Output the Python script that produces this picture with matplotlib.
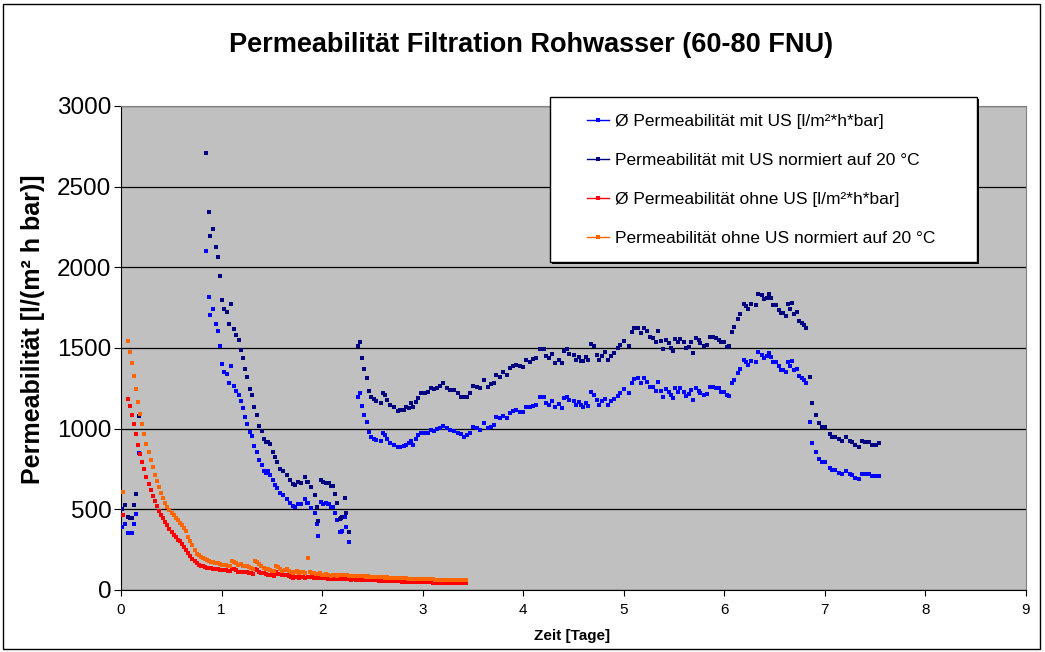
import numpy as np
import matplotlib.pyplot as plt
import matplotlib as mpl
from matplotlib.lines import Line2D
from matplotlib.patches import Rectangle

mpl.rcParams["font.family"] = ["Liberation Sans", "DejaVu Sans"]

# Zeit [Tage] und Permeabilitaet mit US (Ø und normiert auf 20 °C)
t_mit = [0.01, 0.04, 0.066, 0.086, 0.11, 0.13, 0.15, 0.176,
         0.845, 0.875, 0.89, 0.91, 0.94, 0.96, 0.987, 1.007, 1.024, 1.054,
         1.074, 1.093, 1.12, 1.143, 1.173, 1.19, 1.21, 1.236, 1.256, 1.283,
         1.30, 1.32, 1.35, 1.37, 1.40, 1.42, 1.44, 1.46, 1.48, 1.51,
         1.53, 1.55, 1.58, 1.61, 1.65, 1.68, 1.71, 1.73, 1.76, 1.79,
         1.83, 1.85, 1.86, 1.89, 1.925, 1.945, 1.96, 1.99, 2.01, 2.04,
         2.06, 2.07, 2.09, 2.11, 2.13, 2.15, 2.18, 2.19, 2.20, 2.23,
         2.24, 2.27,
         2.352, 2.376, 2.40, 2.42, 2.448, 2.468, 2.49, 2.52, 2.54, 2.585,
         2.607, 2.63, 2.65, 2.68, 2.71, 2.75, 2.77, 2.81, 2.83, 2.86,
         2.88, 2.90, 2.93, 2.95, 2.98, 3.02, 3.05, 3.08, 3.11, 3.14,
         3.17, 3.20, 3.24, 3.27, 3.31, 3.35, 3.38, 3.41, 3.44, 3.47,
         3.50, 3.54, 3.57, 3.605, 3.645, 3.68, 3.71, 3.73, 3.77, 3.80,
         3.84, 3.87, 3.90, 3.93, 3.97, 4.00, 4.03, 4.07, 4.10, 4.13,
         4.165, 4.21, 4.23, 4.26, 4.29, 4.32, 4.36, 4.39, 4.41, 4.44,
         4.46, 4.50, 4.52, 4.555, 4.57, 4.595, 4.62, 4.64, 4.67, 4.705,
         4.73, 4.75, 4.78, 4.81, 4.845, 4.87, 4.90, 4.94, 4.96, 5.00,
         5.05, 5.08, 5.10, 5.14, 5.17, 5.20, 5.23, 5.262, 5.29, 5.32,
         5.345, 5.375, 5.39, 5.415, 5.45, 5.47, 5.49, 5.51, 5.535, 5.56,
         5.60, 5.62, 5.645, 5.67, 5.69, 5.72, 5.75, 5.76, 5.80, 5.83,
         5.86, 5.89, 5.92, 5.945, 5.97, 6.00, 6.03, 6.05, 6.08, 6.10,
         6.14, 6.16, 6.20, 6.22, 6.236, 6.27, 6.31, 6.33, 6.37, 6.395,
         6.42, 6.44, 6.46, 6.48, 6.51, 6.54, 6.56, 6.585, 6.61, 6.63,
         6.65, 6.67, 6.69, 6.72, 6.74, 6.77, 6.79, 6.81, 6.85, 6.875,
         6.91, 6.94, 6.97, 7.00, 7.05, 7.07, 7.10, 7.14, 7.17, 7.21,
         7.245, 7.27, 7.30, 7.34, 7.37, 7.40, 7.436, 7.47, 7.505, 7.54]

perm_mit = [390, 411, 353, 353, 353, 411, 473, 847,
            2103, 1818, 1707, 1742, 1651, 1603, 1515, 1401, 1353, 1341,
            1283, 1390, 1264, 1236, 1211, 1170, 1130, 1074, 1031, 977,
            955, 895, 853, 806, 775, 740, 727, 740, 711, 682,
            651, 630, 599, 589, 564, 541, 523, 517, 533, 533,
            562, 537, 537, 510, 475, 407, 337, 543, 533, 539,
            533, 533, 512, 512, 479, 434, 357, 361, 365, 450,
            388, 295,
            1199, 1224, 1141, 1087, 1043, 979, 950, 938, 929, 925,
            971, 958, 936, 913, 896, 884, 888, 894, 896, 909,
            925, 898, 934, 961, 971, 971, 975, 992, 988, 996,
            1006, 1019, 1002, 992, 988, 975, 967, 950, 961, 971,
            1013, 1006, 992, 1037, 1002, 1013, 1021, 1070, 1066, 1079,
            1064, 1100, 1110, 1116, 1102, 1106, 1137, 1137, 1141, 1147,
            1195, 1195, 1162, 1147, 1174, 1133, 1153, 1131, 1189, 1199,
            1178, 1174, 1147, 1168, 1145, 1137, 1162, 1141, 1230, 1210,
            1178, 1145, 1174, 1182, 1145, 1174, 1182, 1205, 1224, 1245,
            1224, 1286, 1307, 1311, 1282, 1311, 1292, 1261, 1257, 1236,
            1292, 1236, 1199, 1245, 1230, 1210, 1189, 1249, 1228, 1249,
            1228, 1203, 1216, 1240, 1178, 1251, 1236, 1224, 1210, 1216,
            1257, 1257, 1253, 1249, 1230, 1228, 1210, 1203, 1286, 1303,
            1344, 1369, 1423, 1411, 1397, 1417, 1411, 1473, 1458, 1436,
            1448, 1469, 1444, 1411, 1411, 1386, 1365, 1365, 1349, 1411,
            1386, 1417, 1361, 1369, 1328, 1311, 1299, 1282, 1043, 912,
            856, 810, 794, 794, 756, 746, 746, 725, 717, 738,
            721, 711, 696, 688, 721, 717, 717, 704, 704, 704]

perm_mit_20 = [504, 525, 452, 448, 448, 525, 596, 1079,
               2707, 2343, 2194, 2240, 2128, 2062, 1948, 1800, 1742, 1724,
               1647, 1775, 1616, 1581, 1550, 1490, 1436, 1370, 1318, 1246,
               1211, 1136, 1085, 1019, 986, 936, 915, 919, 903, 857,
               824, 793, 752, 740, 711, 680, 658, 651, 672, 665,
               702, 672, 672, 639, 591, 513, 428, 682, 667, 665,
               661, 661, 642, 642, 593, 541, 440, 445, 455, 568,
               479, 362,
               1510, 1539, 1440, 1369, 1313, 1236, 1199, 1183, 1174, 1158,
               1224, 1210, 1178, 1145, 1133, 1112, 1116, 1115, 1133, 1130,
               1162, 1137, 1164, 1189, 1218, 1224, 1230, 1255, 1245, 1251,
               1266, 1280, 1251, 1241, 1241, 1220, 1199, 1195, 1199, 1220,
               1266, 1257, 1251, 1303, 1261, 1274, 1282, 1334, 1320, 1349,
               1334, 1373, 1390, 1396, 1386, 1382, 1427, 1411, 1432, 1438,
               1494, 1494, 1452, 1436, 1465, 1407, 1427, 1407, 1479, 1496,
               1465, 1458, 1427, 1444, 1421, 1417, 1444, 1427, 1523, 1515,
               1458, 1427, 1452, 1473, 1427, 1452, 1469, 1500, 1521, 1542,
               1515, 1598, 1625, 1625, 1593, 1625, 1604, 1568, 1562, 1537,
               1608, 1542, 1494, 1552, 1531, 1500, 1479, 1556, 1535, 1556,
               1535, 1500, 1506, 1535, 1469, 1562, 1552, 1531, 1510, 1521,
               1568, 1568, 1560, 1552, 1537, 1535, 1506, 1510, 1600, 1631,
               1681, 1708, 1770, 1760, 1743, 1770, 1764, 1834, 1826, 1805,
               1812, 1832, 1812, 1764, 1764, 1735, 1714, 1714, 1698, 1770,
               1739, 1780, 1712, 1722, 1666, 1656, 1645, 1625, 1320, 1158,
               1085, 1033, 1012, 1012, 967, 950, 950, 934, 925, 950,
               925, 919, 896, 888, 925, 919, 919, 900, 900, 909]

# ohne US: erster Wert, danach Messwerte alle 30 min (0.0208 Tage)
t_ohne_start = 0.017
t_ohne_first_grid = 0.066
dt_ohne = 0.0208

perm_ohne = [465,
             1183, 1141, 1087, 1027, 967, 900, 840, 795, 751, 703,
             658, 620, 585, 554, 521, 492, 467, 444, 423, 400,
             380, 361, 344, 328, 313, 301, 284, 266, 249, 230,
             210, 195, 178, 165, 156, 150, 146, 142, 139, 136,
             134, 132, 130, 128, 126, 124, 122, 121, 119, 117,
             132, 128, 124, 114, 112, 112, 110, 110, 106, 103,
             97, 128, 124, 114, 108, 103, 98, 95, 93, 90,
             89, 110, 102, 97, 90, 92, 96, 84, 80, 76,
             82, 83, 76, 80, 83, 76, 78, 82, 78, 76,
             72, 74, 76, 72, 72, 72, 70, 68, 71, 69,
             68, 70, 68, 67, 69, 67, 66, 65, 66, 65,
             64, 63, 64, 62, 61, 62, 60, 60, 61, 59,
             58, 58, 57, 56, 57, 55, 55, 55, 54, 53,
             53, 52, 52, 51, 51, 50, 50, 50, 49, 49,
             48, 48, 48, 47, 47, 47, 46, 46, 46, 46,
             45, 45, 45, 45, 44, 44, 44, 44, 44, 44,
             43, 43, 43]

perm_ohne_20 = [608,
                1542, 1475, 1405, 1326, 1247, 1166, 1091, 1027, 969, 907,
                853, 805, 761, 714, 674, 639, 602, 573, 542, 515,
                496, 477, 463, 448, 432, 417, 400, 382, 365, 328,
                303, 276, 245, 224, 214, 206, 198, 192, 186, 181,
                176, 172, 167, 165, 161, 157, 155, 152, 150, 150,
                178, 172, 165, 155, 160, 150, 146, 150, 140, 134,
                130, 178, 172, 160, 148, 139, 132, 128, 124, 120,
                118, 150, 140, 130, 120, 125, 132, 116, 110, 103,
                112, 116, 104, 110, 114, 104, 196, 112, 108, 103,
                98, 100, 103, 96, 93, 97, 92, 89, 93, 90,
                89, 95, 92, 90, 93, 91, 88, 87, 89, 88,
                86, 85, 86, 84, 83, 84, 82, 81, 82, 80,
                79, 80, 78, 77, 78, 76, 75, 76, 74, 73,
                74, 73, 72, 72, 71, 70, 71, 70, 69, 69,
                68, 68, 67, 67, 66, 66, 66, 65, 65, 65,
                64, 64, 64, 63, 63, 63, 63, 62, 62, 62,
                62, 61, 61]

t_ohne = np.concatenate([[t_ohne_start],
                         t_ohne_first_grid + dt_ohne * np.arange(len(perm_ohne) - 1)])

labels = ["Ø Permeabilität mit US [l/m²*h*bar]",
          "Permeabilität mit US normiert auf 20 °C",
          "Ø Permeabilität ohne US [l/m²*h*bar]",
          "Permeabilität ohne US normiert auf 20 °C"]
colors = ["#0000FF", "#000080", "#FF0000", "#FF6600"]

W, H = 1045, 652
fig = plt.figure(figsize=(W / 100, H / 100), dpi=100)
ax = fig.add_axes([121 / W, 1 - 590 / H, (1026 - 121) / W, (590 - 106) / H])
ax.set_facecolor("#C0C0C0")

ms = 3.0
series = [(t_mit, perm_mit), (t_mit, perm_mit_20), (t_ohne, perm_ohne), (t_ohne, perm_ohne_20)]
for (x, y), c in zip(series, colors):
    ax.plot(x, y, linestyle="none", marker="s", markersize=ms, markeredgewidth=0, color=c, zorder=3)

ax.set_xlim(0, 9)
ax.set_ylim(0, 3000)
ax.set_xticks(range(0, 10))
ax.set_yticks(range(0, 3001, 500))
ax.yaxis.grid(True, color="black", linewidth=0.9)
ax.set_axisbelow(True)
for s in ["top", "right"]:
    ax.spines[s].set_color("#808080")
for s in ["left", "bottom"]:
    ax.spines[s].set_color("black")
ax.tick_params(axis="y", direction="out", length=5, width=0.8, pad=2, labelsize=17.5)
ax.tick_params(axis="x", direction="out", length=4, width=0.8, pad=5, labelsize=11)
for lab in ax.get_xticklabels():
    lab.set_family(["Liberation Sans Narrow", "Liberation Sans"])

fig.text(531 / W, 1 - 45 / H, "Permeabilität Filtration Rohwasser (60-80 FNU)",
         ha="center", va="center", fontsize=19.5, fontweight="bold")
fig.text(33 / W, 1 - 329 / H, "Permeabilität [l/(m² h bar)]", rotation=90,
         ha="center", va="center", fontsize=18, fontweight="bold")
fig.text(572 / W, 1 - 636 / H, "Zeit [Tage]", ha="center", va="center",
         fontsize=11, fontweight="bold", family=["Liberation Sans Narrow", "Liberation Sans"])

# legend box
fig.patches.append(Rectangle((552 / W, 1 - 264 / H), 427 / W, 165 / H, transform=fig.transFigure,
                             facecolor="black", edgecolor="none", zorder=3))
fig.patches.append(Rectangle((550 / W, 1 - 262 / H), 427 / W, 165 / H, transform=fig.transFigure,
                             facecolor="white", edgecolor="black", linewidth=1, zorder=4))
handles = [Line2D([], [], color=c, marker="s", markersize=ms, markeredgewidth=0, linewidth=1)
           for c in colors]
fig.legend(handles, labels, loc="upper left", bbox_to_anchor=(587 / W, 1 - 114 / H),
           frameon=False, fontsize=12.5, borderpad=0, borderaxespad=0, handlelength=1.27,
           handletextpad=0.35, labelspacing=1.38)

# chart border
fig.patches.append(Rectangle((3 / W, 3 / H), 1037 / W, 645 / H, transform=fig.transFigure,
                             facecolor="none", edgecolor="black", linewidth=1, zorder=0))

fig.savefig("out.png", dpi=100, facecolor="white")
